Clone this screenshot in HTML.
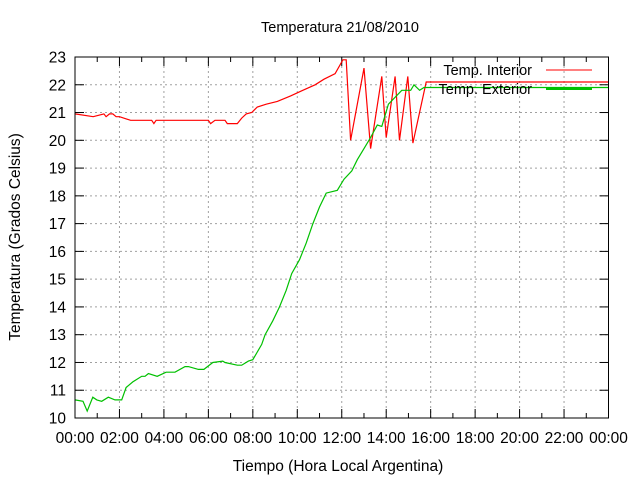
<!DOCTYPE html>
<html><head><meta charset="utf-8"><style>
body{margin:0;background:#fff}
svg{display:block;font-family:"Liberation Sans",sans-serif}
</style></head><body>
<svg id="chart" width="640" height="480">
<text x="340" y="32" font-size="14.5" text-anchor="middle">Temperatura 21/08/2010</text>
<text x="338" y="471" font-size="15.5" text-anchor="middle">Tiempo (Hora Local Argentina)</text>
<text transform="translate(20,237) rotate(-90)" font-size="15.5" text-anchor="middle">Temperatura (Grados Celsius)</text>
<g id="grid"></g><g id="ticks"></g><g id="series"></g>
<rect x="75" y="57" width="533.5" height="361" fill="none" stroke="#000" stroke-width="1"/>
<g>
<text x="532" y="75" font-size="14.5" text-anchor="end">Temp. Interior</text>
<line x1="546" y1="70" x2="592" y2="70" stroke="#ff0000"/>
<text x="532" y="94" font-size="14.5" text-anchor="end">Temp. Exterior</text>
<line x1="546" y1="89" x2="592" y2="89" stroke="#00c000" stroke-width="2"/>
</g>
</svg>
<script>
const xTickLabels=["00:00","02:00","04:00","06:00","08:00","10:00","12:00","14:00","16:00","18:00","20:00","22:00","00:00"];
const yTickValues=[10,11,12,13,14,15,16,17,18,19,20,21,22,23];
const interiorHours=[0,0.82,1.3,1.4,1.55,1.7,1.85,2.0,2.5,3.45,3.55,3.65,6.0,6.1,6.3,6.75,6.85,7.0,7.3,7.5,7.7,7.95,8.2,8.6,9.1,9.7,10.25,10.8,11.2,11.7,12.05,12.2,12.4,13.0,13.3,13.8,14.0,14.4,14.6,14.97,15.2,15.8,24];
const interiorTemps=[20.95,20.85,20.95,20.85,20.95,20.95,20.85,20.85,20.72,20.72,20.6,20.72,20.72,20.6,20.72,20.72,20.6,20.6,20.6,20.8,20.95,21.0,21.2,21.3,21.4,21.6,21.8,22.0,22.2,22.4,22.9,22.9,20.0,22.6,19.7,22.3,20.1,22.3,20.0,22.3,19.9,22.1,22.1];
const exteriorHours=[0,0.36,0.55,0.8,0.98,1.2,1.5,1.8,2.1,2.3,2.6,3.0,3.15,3.3,3.7,4.1,4.5,4.95,5.1,5.55,5.8,6.2,6.65,6.75,7.3,7.5,7.8,8.0,8.4,8.55,8.9,9.2,9.5,9.75,10.1,10.4,10.7,11.0,11.3,11.8,12.1,12.45,12.7,13.0,13.3,13.6,13.8,14.1,14.7,15.1,15.25,15.5,15.7,16.0,24];
const exteriorTemps=[10.65,10.6,10.25,10.75,10.65,10.6,10.75,10.65,10.65,11.1,11.3,11.5,11.5,11.6,11.5,11.65,11.65,11.85,11.85,11.75,11.75,12.0,12.05,12.0,11.9,11.9,12.05,12.1,12.65,13.0,13.5,14.0,14.6,15.2,15.7,16.3,17.0,17.6,18.1,18.2,18.6,18.9,19.3,19.7,20.1,20.55,20.5,21.3,21.8,21.8,22.0,21.8,21.9,21.9,21.9];
const X0=75,X1=608.5,Y0=418,Y1=57;
function xs(h){return X0+(X1-X0)*h/24;}
function ys(v){return Y0-(Y0-Y1)*(v-10)/13;}
const NS="http://www.w3.org/2000/svg";
function mk(t,a,p){const e=document.createElementNS(NS,t);for(const k in a)e.setAttribute(k,a[k]);p.appendChild(e);return e;}
const grid=document.getElementById('grid'),ticks=document.getElementById('ticks'),series=document.getElementById('series');
yTickValues.forEach(v=>{
  const y=ys(v);
  if(v>10&&v<23){const g=mk('line',{x1:X0,y1:y,x2:X1,y2:y,stroke:'#a0a0a0','stroke-dasharray':'2,3'},grid);
  
  }
  mk('line',{x1:X0,y1:y,x2:X0+9,y2:y,stroke:'#000'},ticks);
  mk('line',{x1:X1-9,y1:y,x2:X1,y2:y,stroke:'#000'},ticks);
  const t=mk('text',{x:X0-9,y:y+5.5,'font-size':15.5,'text-anchor':'end'},ticks);
  t.textContent=v;
  
  
});
xTickLabels.forEach((l,i)=>{
  const x=xs(i*2);
  if(i>0&&i<12){const g=mk('line',{x1:x,y1:Y0,x2:x,y2:Y1,stroke:'#a0a0a0','stroke-dasharray':'2,3'},grid);
  
  }
  mk('line',{x1:x,y1:Y0,x2:x,y2:Y0-9,stroke:'#000'},ticks);
  mk('line',{x1:x,y1:Y1,x2:x,y2:Y1+9,stroke:'#000'},ticks);
  const t=mk('text',{x:x,y:Y0+25,'font-size':15.5,'text-anchor':'middle'},ticks);
  t.textContent=l;
  
  
  if(i<12){const m=xs(i*2+1);
    mk('line',{x1:m,y1:Y0,x2:m,y2:Y0-5,stroke:'#000'},ticks);
    mk('line',{x1:m,y1:Y1,x2:m,y2:Y1+5,stroke:'#000'},ticks);}
});
function path(hs,vs){return hs.map((h,i)=>(i?'L':'M')+xs(h).toFixed(1)+','+ys(vs[i]).toFixed(1)).join('');}
const pi=mk('path',{d:path(interiorHours,interiorTemps),fill:'none',stroke:'#ff0000','stroke-width':1.2},series);


const pe=mk('path',{d:path(exteriorHours,exteriorTemps),fill:'none',stroke:'#00c000','stroke-width':1.2},series);


</script>
</body></html>
